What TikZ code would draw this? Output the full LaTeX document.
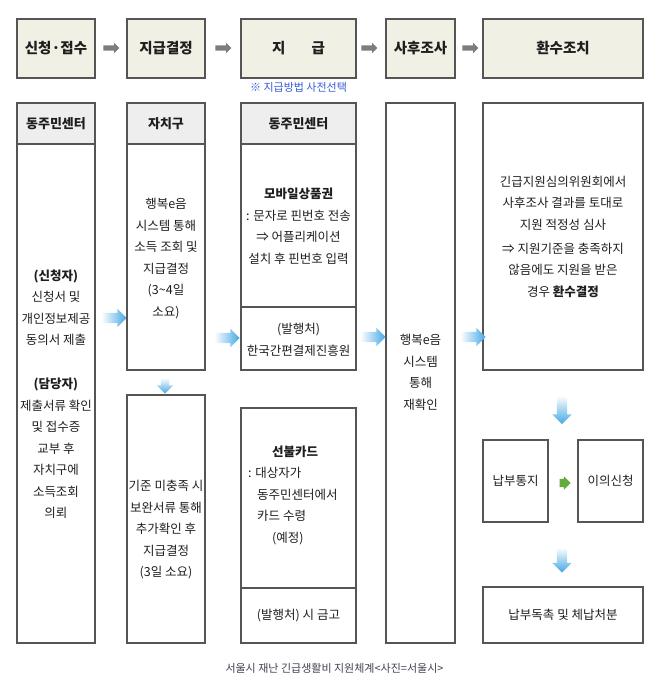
\documentclass[tikz,border=0pt]{standalone}
\usepackage{fontspec}
\setmainfont{Noto Sans CJK KR}
\usetikzlibrary{shapes.arrows}
\definecolor{linegray}{RGB}{85,85,85}
\definecolor{headfill}{RGB}{240,241,228}
\definecolor{colfill}{RGB}{238,238,238}
\definecolor{arrowblue}{RGB}{70,168,228}
\definecolor{arrowgray}{RGB}{125,125,125}
\definecolor{arrowgreen}{RGB}{100,170,60}
\definecolor{noteblue}{RGB}{50,90,215}
\definecolor{capgray}{RGB}{65,65,80}
\definecolor{ink}{RGB}{30,30,30}

\begin{document}
\begin{tikzpicture}[x=1pt,y=-1pt,
  stage/.style={draw=linegray,line width=1.2pt,fill=headfill,inner sep=0pt,text=ink,font=\fontsize{14.5}{16}\selectfont\bfseries},
  colhead/.style={draw=linegray,line width=1.2pt,fill=colfill,inner sep=0pt,text=ink,font=\fontsize{13}{15}\selectfont\bfseries},
  cell/.style={draw=linegray,line width=1.2pt,inner sep=0pt,text=ink,font=\fontsize{12.5}{21.5}\selectfont},
  txt/.style={inner sep=0pt,align=center,text=ink,font=\fontsize{12.5}{21.5}\selectfont},
  steparr/.style={single arrow,fill=arrowgray,inner xsep=0pt,inner ysep=2.5pt,minimum height=16,single arrow head extend=2.5pt},
  flowarr/.style={single arrow,inner xsep=0pt,inner ysep=5pt,minimum height=24,single arrow head extend=4pt,left color=arrowblue!5,right color=arrowblue},
  downarr/.style={single arrow,shape border rotate=270,inner sep=5pt,single arrow head extend=4.5pt,top color=arrowblue!5,bottom color=arrowblue}]
\useasboundingbox (0,0) rectangle (659,689);

% stages
\node[stage,minimum width=78,minimum height=59] (s1) at (56,48.5) {신청·접수};
\node[stage,minimum width=78,minimum height=59] (s2) at (166,48.5) {지급결정};
\node[stage,minimum width=115,minimum height=59] (s3) at (298.5,48.5) {지\hspace{26pt}급};
\node[stage,minimum width=69,minimum height=59] (s4) at (420.5,48.5) {사후조사};
\node[stage,minimum width=160,minimum height=59] (s5) at (563,48.5) {환수조치};
\node[steparr] (g1) at (110,48) {};
\node[steparr] (g2) at (222,48) {};
\node[steparr] (g3) at (368,48) {};
\node[steparr] (g4) at (469,48) {};
\node[inner sep=0pt,text=noteblue,font=\fontsize{11}{13}\selectfont] (note) at (298.5,87) {※ 지급방법 사전선택};

% column 1
\node[colhead,minimum width=78,minimum height=41] (c1h) at (56,123.5) {동주민센터};
\node[cell,minimum width=78,minimum height=499] (c1b) at (56,393.5) {};
\node[txt] (t1a) at (56,307.5) {\textbf{(신청자)}\\신청서 및\\개인정보제공\\동의서 제출};
\node[txt] (t1b) at (56,448.5) {\textbf{(담당자)}\\제출서류 확인\\및 접수증\\교부 후\\자치구에\\소득조회\\의뢰};

% column 2
\node[colhead,minimum width=78,minimum height=41] (c2h) at (166,123.5) {자치구};
\node[cell,minimum width=78,minimum height=226] (c2b) at (166,257) {};
\node[txt] (t2a) at (166,258.5) {행복e음\\시스템 통해\\소득 조회 및\\지급결정\\(3\textasciitilde4일\\소요)};
\node[cell,minimum width=78,minimum height=248] (c2l) at (166,519) {};
\node[txt] (t2b) at (166,530) {기준 미충족 시\\보완서류 통해\\추가확인 후\\지급결정\\(3일 소요)};
\node[downarr,minimum height=15,inner sep=4pt,single arrow head extend=4pt] (d1) at (165,384) {};

% column 3
\node[colhead,minimum width=115,minimum height=41] (c3h) at (298.5,123.5) {동주민센터};
\node[cell,minimum width=115,minimum height=163] (c3m) at (298.5,225.5) {};
\node[txt] (t3a) at (298.5,226) {\textbf{모바일상품권}\\: 문자로 핀번호 전송\\⇒ 어플리케이션\\설치 후 핀번호 입력};
\node[cell,minimum width=115,minimum height=63] (c3s) at (298.5,338.5) {};
\node[txt] (t3b) at (298.5,340) {(발행처)\\한국간편결제진흥원};
\node[cell,minimum width=115,minimum height=180] (c3l) at (298.5,498) {};
\node[txt,align=left,anchor=west] (t3c) at (248,495) {\hspace*{24pt}\textbf{선불카드}\\: 대상자가\\\hspace*{9pt}동주민센터에서\\\hspace*{9pt}카드 수령\\\hspace*{24pt}(예정)};
\node[cell,minimum width=115,minimum height=55] (c3f) at (298.5,615.5) {(발행처) 시 금고};

% column 4
\node[cell,minimum width=69,minimum height=540] (c4) at (420.5,373) {};
\node[txt] (t4) at (420.5,372.5) {행복e음\\시스템\\통해\\재확인};

% column 5
\node[cell,minimum width=160,minimum height=267] (c5) at (563,236.5) {};
\node[txt] (t5a) at (563,203) {긴급지원심의위원회에서\\사후조사 결과를 토대로\\지원 적정성 심사};
\node[txt] (t5b) at (563,270) {⇒ 지원기준을 충족하지\\않음에도 지원을 받은\\경우 \textbf{환수결정}};
\node[downarr,minimum height=27] (d2) at (562,408) {};
\node[cell,minimum width=65,minimum height=82] (r1) at (515.5,481) {납부통지};
\node[cell,minimum width=65,minimum height=82] (r2) at (610.5,481) {이의신청};
\node[single arrow,fill=arrowgreen,inner xsep=0pt,inner ysep=4pt,minimum height=11,single arrow head extend=2.5pt] (g5) at (563,483) {};
\node[downarr,minimum height=24] (d3) at (562,558) {};
\node[cell,minimum width=160,minimum height=56] (r3) at (563,615) {납부독촉 및 체납처분};

% flow between columns
\node[flowarr] (a1) at (112,318) {};
\node[flowarr] (a2) at (225,338) {};
\node[flowarr] (a3) at (371,337) {};
\node[flowarr] (a4) at (471,337) {};

\node[inner sep=0pt,text=capgray,font=\fontsize{11}{13}\selectfont] (cap) at (334.5,668) {서울시 재난 긴급생활비 지원체계<사진=서울시>};
\end{tikzpicture}
\end{document}
